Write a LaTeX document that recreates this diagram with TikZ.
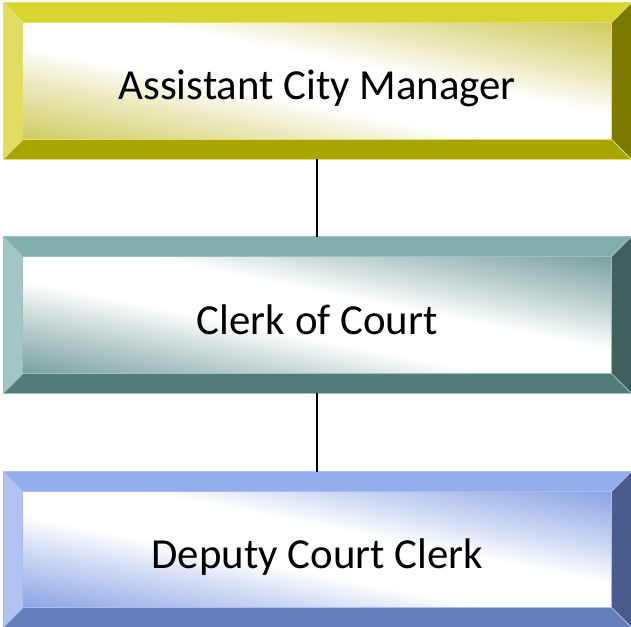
\documentclass[tikz,border=0pt]{standalone}
\usepackage{fontspec}
\setmainfont{Carlito}
\usetikzlibrary{calc,backgrounds}
\definecolor{Ytop}{HTML}{D8D430}
\definecolor{Yleft}{HTML}{E0DD62}
\definecolor{Ybot}{HTML}{A8A500}
\definecolor{Yright}{HTML}{7C7B00}
\definecolor{Yin}{HTML}{CFCB5E}
\definecolor{Yline}{HTML}{E3E06A}
\definecolor{Ttop}{HTML}{82AFAC}
\definecolor{Tleft}{HTML}{A3C6C4}
\definecolor{Tbot}{HTML}{527C79}
\definecolor{Tright}{HTML}{3F605D}
\definecolor{Tin}{HTML}{78A09D}
\definecolor{Tline}{HTML}{9CC2BF}
\definecolor{Btop}{HTML}{94ADEB}
\definecolor{Bleft}{HTML}{B1C3F2}
\definecolor{Bbot}{HTML}{677EBC}
\definecolor{Bright}{HTML}{4A5C8D}
\definecolor{Bin}{HTML}{8AA3E4}
\definecolor{Bline}{HTML}{A9BDF0}
\colorlet{bevelin}{Yin}
\pgfdeclareverticalshading[bevelin]{bevelshade}{100bp}{%
  color(0bp)=(bevelin); color(25bp)=(bevelin); color(37.5bp)=(bevelin!40!white);
  color(45bp)=(white); color(55bp)=(white); color(62.5bp)=(bevelin!40!white);
  color(75bp)=(bevelin); color(100bp)=(bevelin)}
\newlength\bw
\setlength\bw{19.5bp}
\newcommand\bevelbox[7]{% name, top, left, bottom, right, inner, line
  \begin{scope}[on background layer]
    \coordinate (iNW) at ($(#1.north west)+(\bw,-\bw)$);
    \coordinate (iNE) at ($(#1.north east)+(-\bw,-\bw)$);
    \coordinate (iSW) at ($(#1.south west)+(\bw,\bw)$);
    \coordinate (iSE) at ($(#1.south east)+(-\bw,\bw)$);
    \coordinate (iC) at ($(iNW)!0.5!(iSE)$);
    \fill[#2] (#1.north west) -- (#1.north east) -- (iNE) -- (iNW) -- cycle;
    \fill[#3] (#1.north west) -- (iNW) -- (iSW) -- (#1.south west) -- cycle;
    \fill[#4] (#1.south west) -- (iSW) -- (iSE) -- (#1.south east) -- cycle;
    \fill[#5] (#1.north east) -- (#1.south east) -- (iSE) -- (iNE) -- cycle;
    \colorlet{bevelin}{#6}
    \path let \p1=($(iNE)-(iSW)$) in \pgfextra{%
      \pgfmathsetmacro\bang{atan2(\y1,\x1)}%
      \pgfmathsetmacro\bhalf{(\x1/veclen(\x1,\y1))*\y1}%
      \global\let\bangG\bang \global\let\bhalfG\bhalf};
    \begin{scope}
      \clip (iNW) rectangle (iSE);
      \begin{scope}[transform canvas={rotate around={-\bangG:(iC)}}]
        \shade[shading=bevelshade] ($(iC)+(-420bp,-\bhalfG pt)$) rectangle ($(iC)+(420bp,\bhalfG pt)$);
      \end{scope}
    \end{scope}
    \draw[#7, line width=0.8bp] (iNW) rectangle (iSE);
    \draw[#7, line width=0.8bp] (#1.north west) -- (iNW) (#1.south west) -- (iSW)
       (#1.north east) -- (iNE) (#1.south east) -- (iSE);
    \draw[#7, line width=0.8bp] (#1.north west) rectangle (#1.south east);
  \end{scope}}
\tikzset{
  box/.style={rectangle, inner sep=0pt, minimum width=627.5bp, minimum height=156bp,
    text height=38bp, text depth=0bp, font=\fontsize{43}{50}\selectfont, text=black},
  conn/.style={draw=black, line width=1.6bp}
}
\begin{document}
\begin{tikzpicture}[x=1bp, y=-1bp]
\useasboundingbox (0,0) rectangle (631,627);
\node[box] (acm) at (317.25,81) {Assistant City Manager};
\node[box] (coc) at (317.25,315) {Clerk of Court};
\node[box, minimum height=155bp] (dcc) at (317.25,549.5) {Deputy Court Clerk};
\bevelbox{acm}{Ytop}{Yleft}{Ybot}{Yright}{Yin}{Yline}
\bevelbox{coc}{Ttop}{Tleft}{Tbot}{Tright}{Tin}{Tline}
\bevelbox{dcc}{Btop}{Bleft}{Bbot}{Bright}{Bin}{Bline}
\draw[conn] (acm.south) -- (coc.north);
\draw[conn] (coc.south) -- (dcc.north);
\end{tikzpicture}
\end{document}
